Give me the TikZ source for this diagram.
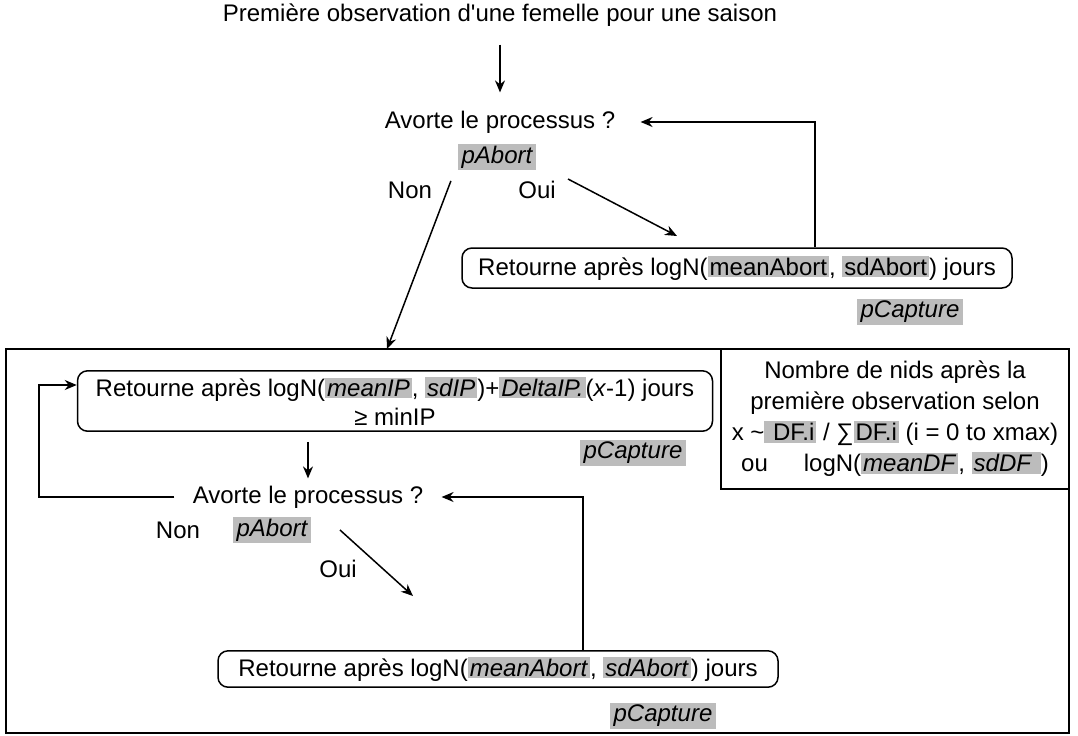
\documentclass[tikz,border=0pt]{standalone}
\usepackage{fontspec}
\setmainfont{Liberation Sans}
\usetikzlibrary{arrows.meta}
\usetikzlibrary{positioning}

\definecolor{fondgris}{RGB}{188,188,188}
\newcommand{\fond}[1]{{\setlength{\fboxsep}{1pt}\colorbox{fondgris}{#1}}}

\begin{document}
\begin{tikzpicture}[%
  >={Stealth[length=6pt,width=5pt]},
  x=0.5pt, y=-0.5pt,
  line width=0.75pt,
  every node/.style={font=\fontsize{12}{14.5}\selectfont},
  boite/.style={draw, rounded corners=5pt, inner sep=3pt},
  param/.style={fill=fondgris, inner xsep=2pt, inner ysep=1pt,
    font=\fontsize{12}{14.5}\selectfont\itshape}
]
  \useasboundingbox (0,0) rectangle (1078,735);

  % premiere observation
  \node (titre) at (500,15) {Première observation d\textquotesingle une femelle pour une saison};
  \node (q1) at (500,122) {Avorte le processus ?};
  \node[param] (pA1) at (497,157) {pAbort};
  \node (non1) at (410,190) {Non};
  \node (oui1) at (537,190) {Oui};
  \node[boite, minimum width=275pt, minimum height=20pt] (r1) at (737,268)
    {Retourne après logN(\fond{meanAbort}, \fond{sdAbort}) jours};
  \node[param] (pC1) at (910,312) {pCapture};

  \coordinate (o1) at (568,179);
  \coordinate (o1f) at (677,236);

  % cadre des nids suivants
  \draw (6,349) rectangle (1069,733);
  \coordinate (entree) at (387,349);

  \node[draw, minimum width=174pt, minimum height=70pt, align=center,
    font=\fontsize{12}{15.5}\selectfont] (nids) at (895,419)
    {Nombre de nids après la\\première observation selon\\
     x \textasciitilde\fond{ DF.i} / ∑\fond{DF.i} (i = 0 to xmax)\\
     ou\hspace{1.5em}logN(\fond{\textit{meanDF}}, \fond{\textit{sdDF} })};

  \node[boite, minimum width=317.5pt, minimum height=28.5pt, align=center] (r2) at (395,401)
    {Retourne après logN(\fond{\textit{meanIP}}, \fond{\textit{sdIP}})+\fond{\textit{DeltaIP.}}(\textit{x}-1) jours\\≥ minIP};
  \node[param] (pC2) at (633,453) {pCapture};

  \node (q2) at (308,497) {Avorte le processus ?};
  \node (non2) at (178,530) {Non};
  \node[param] (pA2) at (272,530) {pAbort};
  \node (oui2) at (338,569) {Oui};
  \node[boite, minimum width=280pt, minimum height=17pt] (r3) at (498,669)
    {Retourne après logN(\fond{\textit{meanAbort}}, \fond{\textit{sdAbort}}) jours};
  \node[param] (pC3) at (663,716) {pCapture};

  \coordinate (o2) at (340,530);
  \coordinate (o2f) at (413,596);

  % fleches
  \draw[->, shorten <=5.5pt, shorten >=5.5pt] (titre) -- (q1);
  \draw[->, shorten >=9pt] ([xshift=39pt]r1.north) |- (q1.east);
  \draw[->] ([shift={(-3pt,-5pt)}]pA1.south west) -- (entree);
  \draw[->] (o1) -- (o1f);

  \draw[->, shorten <=5pt] (q2.north |- r2.south) -- (q2.north);
  \draw[->, shorten <=5.5pt] (q2.west) -| ([xshift=-19pt,yshift=8pt]r2.west) -- ([yshift=8pt]r2.west);
  \draw[->, shorten >=5.5pt] ([xshift=42.5pt]r3.north) |- (q2.east);
  \draw[->] (o2) -- (o2f);

\end{tikzpicture}
\end{document}
